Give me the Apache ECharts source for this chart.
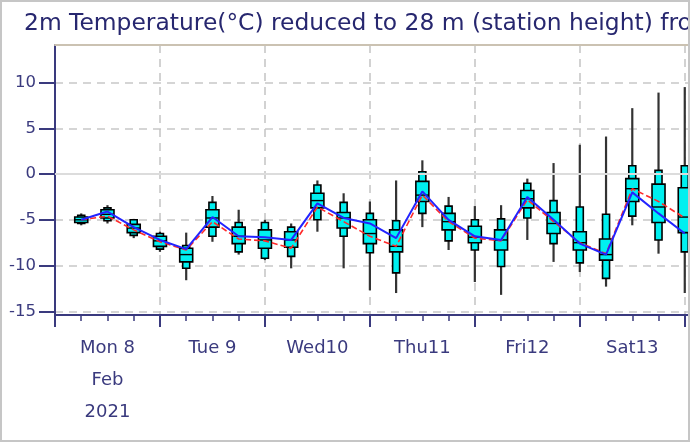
<!DOCTYPE html>
<html>
<head>
<meta charset="utf-8">
<script src="https://cdn.jsdelivr.net/npm/echarts@6/dist/echarts.min.js"></script>
<style>
  html, body { margin: 0; padding: 0; background: #fff; }
  #main { width: 690px; height: 442px; }
</style>
</head>
<body>
<div id="main"></div>
<script>
// hours since Mon 8 Feb 2021 00:00, one box every 6h
var hours = [6, 12, 18, 24, 30, 36, 42, 48, 54, 60, 66, 72, 78, 84, 90, 96, 102, 108, 114, 120, 126, 132, 138, 144];
var tMax = [-4.3, -3.4, -4.9, -6.3, -6.4, -2.4, -3.9, -5.0, -5.4, -0.7, -2.1, -3.0, -0.7, 1.5, -2.5, -3.5, -3.4, -0.5, 1.2, 3.2, 4.1, 7.2, 8.9, 9.5];
var tP90 = [-4.5, -3.7, -5.0, -6.5, -7.8, -3.1, -5.3, -5.3, -5.8, -1.2, -3.1, -4.3, -5.1, 0.25, -3.5, -5.0, -4.9, -1.0, -2.9, -3.6, -4.4, 0.9, 0.4, 0.9];
var tP75 = [-4.7, -3.9, -5.5, -6.8, -8.1, -3.9, -5.8, -6.1, -6.3, -2.1, -4.2, -5.0, -6.1, -0.8, -4.3, -5.7, -6.1, -1.8, -4.2, -6.3, -7.1, -0.5, -1.1, -1.5];
var tMed = [-5.0, -4.4, -5.9, -7.3, -8.8, -4.8, -6.8, -7.2, -7.2, -2.9, -4.8, -6.5, -7.9, -2.3, -5.2, -6.9, -7.2, -2.7, -5.4, -7.5, -8.8, -1.6, -3.6, -4.7];
var tP25 = [-5.3, -4.8, -6.4, -7.9, -9.6, -5.8, -7.6, -8.1, -8.0, -3.7, -5.9, -7.6, -8.5, -3.0, -6.1, -7.5, -8.3, -3.7, -6.5, -8.3, -9.4, -3.0, -5.3, -6.4];
var tP10 = [-5.4, -5.1, -6.7, -8.2, -10.3, -6.8, -8.5, -9.2, -9.0, -5.0, -6.8, -8.6, -10.8, -4.3, -7.3, -8.3, -10.1, -4.8, -7.6, -9.7, -11.4, -4.6, -7.2, -8.5];
var tMin = [-5.6, -5.4, -7.0, -8.5, -11.6, -7.4, -8.8, -9.4, -10.3, -6.3, -10.3, -12.7, -13.0, -5.8, -8.3, -11.8, -13.2, -7.2, -9.6, -10.7, -12.3, -5.6, -8.7, -13.0];
var blueLine = [-5.0, -4.1, -5.8, -7.2, -8.2, -4.7, -6.8, -6.9, -7.2, -3.2, -4.8, -5.4, -7.0, -1.9, -5.0, -6.8, -7.2, -2.5, -5.0, -7.6, -8.8, -2.0, -4.3, -6.5];
var redLine = [-5.0, -4.6, -6.1, -7.4, -8.3, -5.2, -7.1, -7.3, -8.1, -3.6, -5.2, -6.8, -7.9, -2.3, -5.2, -7.0, -7.3, -2.8, -5.2, -7.5, -8.7, -1.6, -3.0, -4.8];

var dayLabels = ['Mon 8\nFeb\n2021', 'Tue 9', 'Wed10', 'Thu11', 'Fri12', 'Sat13', 'Sun14'];
var yTicks = [-15, -10, -5, 0, 5, 10];

var navy = '#3a3a7e';

var boxData = hours.map(function (h, i) {
  return [h, tMin[i], tP10[i], tP25[i], tMed[i], tP75[i], tP90[i], tMax[i]];
});

function renderBox(params, api) {
  var x = api.value(0);
  var pMin = api.coord([x, api.value(1)]);
  var p10 = api.coord([x, api.value(2)]);
  var p25 = api.coord([x, api.value(3)]);
  var pMed = api.coord([x, api.value(4)]);
  var p75 = api.coord([x, api.value(5)]);
  var p90 = api.coord([x, api.value(6)]);
  var pMax = api.coord([x, api.value(7)]);
  var cx = pMin[0];
  var wN = 7, wW = 13;
  return {
    type: 'group',
    children: [
      { type: 'line', shape: { x1: cx, y1: pMax[1], x2: cx, y2: pMin[1] },
        style: { stroke: '#333', lineWidth: 2.2 } },
      { type: 'rect', shape: { x: cx - wN / 2, y: p90[1], width: wN, height: p10[1] - p90[1] },
        style: { fill: '#00f0f0', stroke: '#000', lineWidth: 1.6 } },
      { type: 'rect', shape: { x: cx - wW / 2, y: p75[1], width: wW, height: p25[1] - p75[1] },
        style: { fill: '#00f0f0', stroke: '#000', lineWidth: 1.6 } },
      { type: 'line', shape: { x1: cx - wW / 2, y1: pMed[1], x2: cx + wW / 2, y2: pMed[1] },
        style: { stroke: '#000', lineWidth: 1.4 } }
    ]
  };
}

var chart = echarts.init(document.getElementById('main'), null, { renderer: 'canvas' });

chart.setOption({
  animation: false,
  backgroundColor: '#fff',
  title: {
    text: '2m Temperature(°C) reduced to 28 m (station height) from 9 m (grid)',
    left: 24,
    top: 12,
    padding: 0,
    textStyle: { fontFamily: 'DejaVu Sans', fontSize: 23.4, fontWeight: 'normal', color: '#27276f' }
  },
  grid: { left: 55, width: 656, top: 45, bottom: 127, outerBoundsMode: 'none', containLabel: false },
  xAxis: [
    {
      type: 'value', min: 0, max: 150, interval: 6,
      axisLine: { onZero: false, lineStyle: { color: navy, width: 2 } },
      axisTick: { length: 6, lineStyle: { color: navy, width: 1.5 } },
      axisLabel: {
        margin: 17,
        fontFamily: 'DejaVu Sans', fontSize: 18, color: navy, lineHeight: 32,
        formatter: function (v) {
          return (v % 24 === 12) ? dayLabels[(v - 12) / 24] : '';
        }
      },
      splitLine: { show: false }
    },
    {
      type: 'value', min: 0, max: 150, interval: 24, position: 'bottom',
      axisLine: { show: false, onZero: false },
      axisTick: { length: 12, lineStyle: { color: navy, width: 2 } },
      axisLabel: { show: false },
      splitLine: { show: true, lineStyle: { color: '#c4c4c4', width: 1.5, type: [8, 6] } }
    },
    {
      type: 'value', min: 0, max: 150, position: 'top',
      axisLine: { onZero: false, lineStyle: { color: '#cbc2b2', width: 2 } },
      axisTick: { show: false },
      axisLabel: { show: false },
      splitLine: { show: false }
    }
  ],
  yAxis: {
    type: 'value', min: -15.4, max: 14.1,
    axisLine: { show: true, onZero: false, lineStyle: { color: navy, width: 2 } },
    axisTick: { length: 16, customValues: yTicks, lineStyle: { color: navy, width: 2 } },
    axisLabel: { margin: 19, customValues: yTicks, fontFamily: 'DejaVu Sans', fontSize: 16.5, color: navy },
    splitLine: { show: true, lineStyle: { color: '#c8c8c8', width: 1.5, type: [8, 6] } }
  },
  graphic: [{
    type: 'rect', z: 100, silent: true,
    shape: { x: 1, y: 1, width: 688, height: 440 },
    style: { fill: 'none', stroke: '#c6c6c6', lineWidth: 2 }
  }],
  series: [
    {
      type: 'line', data: [], z: 1, silent: true,
      markLine: {
        silent: true, symbol: 'none', label: { show: false },
        lineStyle: { color: '#dcdcdc', width: 2, type: 'solid' },
        data: [{ yAxis: 0 }]
      }
    },
    {
      type: 'custom', renderItem: renderBox, data: boxData, z: 3,
      encode: { x: 0, y: [1, 7] }
    },
    {
      type: 'line', z: 4, symbol: 'none',
      data: hours.map(function (h, i) { return [h, redLine[i]]; }),
      lineStyle: { color: '#ff2a2a', width: 1.6, type: [6, 3] }
    },
    {
      type: 'line', z: 5, symbol: 'none',
      data: hours.map(function (h, i) { return [h, blueLine[i]]; }),
      lineStyle: { color: '#2323ff', width: 2 }
    }
  ]
});
</script>
</body>
</html>
